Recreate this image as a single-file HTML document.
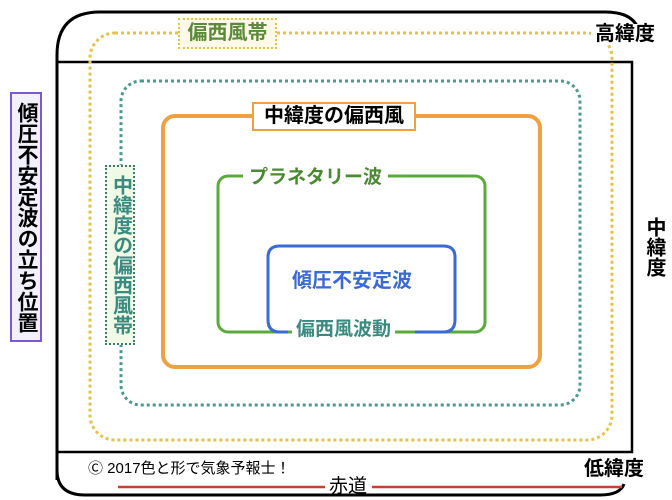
<!DOCTYPE html>
<html><head><meta charset="utf-8"><style>
body{margin:0;width:672px;height:500px;background:#fff;position:relative;overflow:hidden;font-family:"Liberation Sans","Noto Sans CJK JP",sans-serif;}
.a{position:absolute;font-weight:bold;white-space:nowrap;line-height:1;}
.v{writing-mode:vertical-rl;text-orientation:upright;}
</style></head><body>
<svg width="672" height="500" style="position:absolute;left:0;top:0">
<path d="M57,480 V55 Q57,12 100,12 H605 Q640,12 640,40" fill="none" stroke="#000" stroke-width="3"/>
<path d="M57,470 Q57,495 85,495 H600 Q620,495 624,484" fill="none" stroke="#000" stroke-width="3"/>
<rect x="57" y="62" width="575" height="390" fill="none" stroke="#000" stroke-width="2.5"/>
<rect x="90" y="33" width="522" height="407" rx="25" fill="none" stroke="#e6c24a" stroke-width="3" stroke-dasharray="3,3"/>
<rect x="121" y="81" width="459" height="324" rx="20" fill="none" stroke="#4a9a90" stroke-width="3" stroke-dasharray="3,3"/>
<rect x="163" y="116" width="377" height="251" rx="12" fill="none" stroke="#f0a040" stroke-width="4"/>
<rect x="218" y="176" width="267" height="156" rx="10" fill="none" stroke="#5aaa3a" stroke-width="3"/>
<path d="M415,332 H443 Q455,332 455,320 V257 Q455,246 443,246 H280 Q268,246 268,257 V320 Q268,332 280,332 H288" fill="none" stroke="#3a6ad8" stroke-width="3"/>
<line x1="118" y1="487" x2="325" y2="487" stroke="#c84030" stroke-width="2.5"/>
<line x1="372" y1="487" x2="622" y2="487" stroke="#c84030" stroke-width="2.5"/>
</svg>
<div class="a" style="left:178px;top:18px;width:99px;height:31px;border:2.5px dotted #e6c24a;background:#fdf9e8;color:#5a8a3a;font-size:20px;text-align:center;line-height:27px;box-sizing:border-box">偏西風帯</div>
<div class="a" style="left:591px;top:24px;background:#fff;font-size:20px;padding:0 4px">高緯度</div>
<div class="a" style="left:252px;top:102px;width:164px;height:29px;border:2.5px solid #f0a040;background:#fff;font-size:20px;text-align:center;line-height:25px;box-sizing:border-box">中緯度の偏西風</div>
<div class="a" style="left:243px;top:168px;background:#fff;color:#4a8a30;font-size:19px;padding:0 6px">プラネタリー波</div>
<div class="a" style="left:292px;top:271px;color:#3a6ad8;font-size:20px">傾圧不安定波</div>
<div class="a" style="left:292px;top:320px;background:#fff;color:#3a8a80;font-size:19px;padding:0 4px">偏西風波動</div>
<div class="a v" style="left:105px;top:165px;width:30px;height:180px;border:2.5px dotted #3a7a70;background:#f0f8e6;color:#3a8a80;font-size:20px;box-sizing:border-box;display:flex;align-items:center;justify-content:center;line-height:25px">中緯度の偏西風帯</div>
<div class="a v" style="left:10px;top:92px;width:32px;height:250px;border:2px solid #7a5ad0;background:#f2f0fc;color:#000;font-size:21px;box-sizing:border-box;display:flex;align-items:center;justify-content:center;line-height:28px">傾圧不安定波の立ち位置</div>
<div class="a v" style="left:642px;top:214px;background:#fff;font-size:20px;line-height:24px;padding:3px 0">中緯度</div>
<div class="a" style="left:584px;top:459px;font-size:20px">低緯度</div>
<div class="a" style="left:88px;top:461px;font-size:15px;font-weight:normal">Ⓒ 2017色と形で気象予報士！</div>
<div class="a" style="left:329px;top:477px;font-size:19px;font-weight:normal">赤道</div>
</body></html>
